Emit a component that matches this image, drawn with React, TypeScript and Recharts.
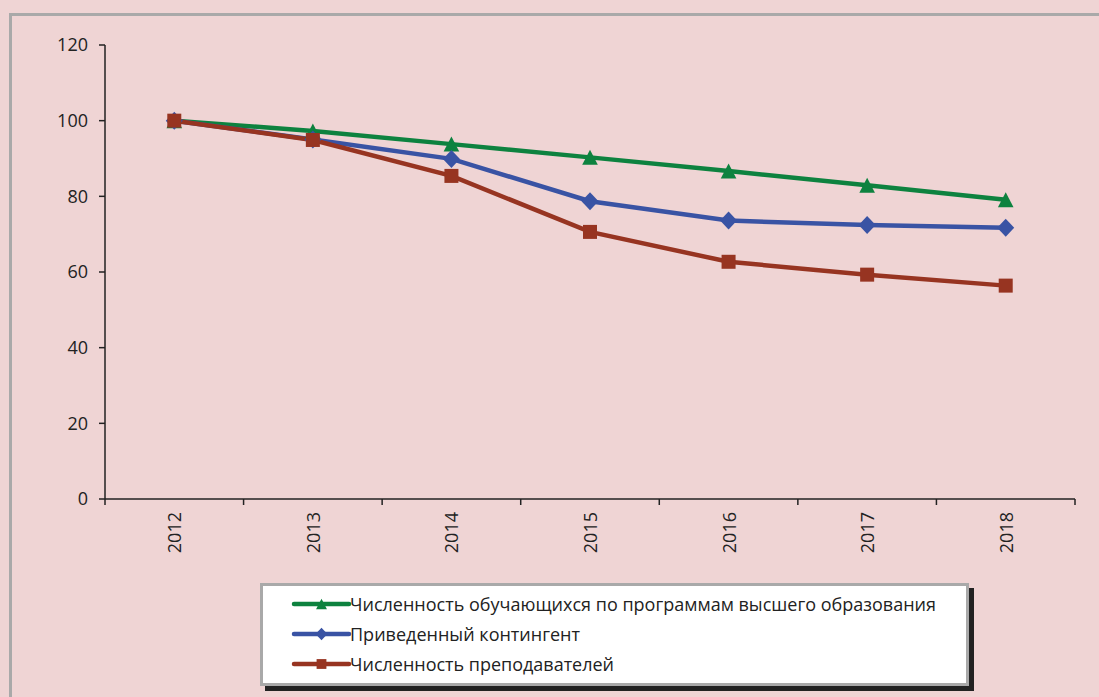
import React from "react";
import { LineChart, Line, XAxis, YAxis } from "recharts";

const years = ["2012", "2013", "2014", "2015", "2016", "2017", "2018"];
const students = [100, 97.3, 93.8, 90.3, 86.7, 82.9, 79.1];
const contingent = [100, 95.0, 89.9, 78.7, 73.6, 72.4, 71.7];
const teachers = [100, 94.9, 85.4, 70.6, 62.7, 59.3, 56.4];
const yTicks = [0, 20, 40, 60, 80, 100, 120];

const seriesNames = [
  "Численность обучающихся по программам высшего образования",
  "Приведенный контингент",
  "Численность преподавателей",
];
const seriesKeys = ["students", "contingent", "teachers"];
const seriesColors = ["#0d823f", "#3953a4", "#973421"];
const seriesShapes = ["triangle", "diamond", "square"];
const legendTextWidths = [586, 230, 264];

const data = years.map((y, i) => ({
  year: y,
  students: students[i],
  contingent: contingent[i],
  teachers: teachers[i],
}));

const FONT = "'Open Sans', 'Noto Sans', sans-serif";
const BG = "#efd4d4";

function Marker({ shape, cx, cy, color, scale = 1 }: any) {
  if (cx == null || cy == null) return null;
  if (shape === "triangle") {
    const w = 7.8 * scale;
    const h = 7.5 * scale;
    return (
      <polygon
        points={`${cx},${cy - h} ${cx + w},${cy + h} ${cx - w},${cy + h}`}
        fill={color}
      />
    );
  }
  if (shape === "diamond") {
    const w = 8.5 * scale;
    const h = 9 * scale;
    return (
      <polygon
        points={`${cx},${cy - h} ${cx + w},${cy} ${cx},${cy + h} ${cx - w},${cy}`}
        fill={color}
      />
    );
  }
  const s = 7 * scale;
  return <rect x={cx - s} y={cy - s} width={2 * s} height={2 * s} fill={color} />;
}

const makeDot = (shape: string, color: string) => (props: any) => (
  <Marker key={`${shape}-${props.index}`} shape={shape} cx={props.cx} cy={props.cy} color={color} />
);

function XTick(props: any) {
  const { x, y, payload, index, visibleTicksCount, width } = props;
  const bw = width / visibleTicksCount;
  const last = index === visibleTicksCount - 1;
  return (
    <g>
      <line x1={x - bw / 2} y1={y} x2={x - bw / 2} y2={y + 6} stroke="#222" strokeWidth={1.5} />
      {last && <line x1={x + bw / 2} y1={y} x2={x + bw / 2} y2={y + 6} stroke="#222" strokeWidth={1.5} />}
      <text
        x={x}
        y={y + 13}
        transform={`rotate(-90 ${x} ${y + 13})`}
        textAnchor="end"
        dominantBaseline="central"
        fontSize={18}
        fontFamily={FONT}
        fill="#222"
      >
        {payload.value}
      </text>
    </g>
  );
}

export default function App() {
  return (
    <div
      style={{
        position: "absolute",
        left: 0,
        top: 0,
        width: 1099,
        height: 697,
        background: BG,
        overflow: "hidden",
      }}
    >
      <div
        style={{
          position: "absolute",
          left: 9,
          top: 13,
          width: 1300,
          height: 900,
          borderLeft: "3px solid #a9a9a9",
          borderTop: "3px solid #a9a9a9",
        }}
      />
      <div style={{ position: "absolute", left: 0, top: 0 }}>
        <LineChart
          width={1099}
          height={697}
          data={data}
          margin={{ top: 45, right: 24, left: 45, bottom: 138 }}
        >
          <YAxis
            domain={[0, 120]}
            ticks={yTicks}
            width={60}
            tickSize={6}
            tickMargin={11}
            axisLine={{ stroke: "#222", strokeWidth: 1.5 }}
            tickLine={{ stroke: "#222", strokeWidth: 1.5 }}
            tick={{ fill: "#222", fontSize: 18, fontFamily: FONT }}
            interval={0}
          />
          <XAxis
            dataKey="year"
            type="category"
            scale="band"
            height={60}
            tickSize={0}
            tickMargin={0}
            tickLine={false}
            axisLine={{ stroke: "#222", strokeWidth: 1.5 }}
            tick={<XTick />}
            interval={0}
          />
          {seriesKeys.map((k, i) => (
            <Line
              key={k}
              type="linear"
              dataKey={k}
              name={seriesNames[i]}
              stroke={seriesColors[i]}
              strokeWidth={4.5}
              dot={makeDot(seriesShapes[i], seriesColors[i])}
              activeDot={false}
              isAnimationActive={false}
            />
          ))}
        </LineChart>
      </div>
      <div
        style={{
          position: "absolute",
          left: 260,
          top: 583,
          width: 709,
          height: 103,
          boxSizing: "border-box",
          background: "#fff",
          border: "3px solid #a9a9a9",
          boxShadow: "5px 5px 0 #222",
        }}
      >
        <svg width={703} height={97} style={{ display: "block" }}>
          {seriesNames.map((name, i) => {
            const cy = 18 + i * 30;
            return (
              <g key={name}>
                <line
                  x1={31}
                  y1={cy}
                  x2={86}
                  y2={cy}
                  stroke={seriesColors[i]}
                  strokeWidth={4.5}
                  strokeLinecap="round"
                />
                <Marker shape={seriesShapes[i]} cx={58.5} cy={cy} color={seriesColors[i]} scale={0.7} />
                <text
                  x={87}
                  y={cy}
                  dominantBaseline="central"
                  fontSize={18}
                  fontFamily={FONT}
                  fill="#222"
                  textLength={legendTextWidths[i]}
                  lengthAdjust="spacingAndGlyphs"
                >
                  {name}
                </text>
              </g>
            );
          })}
        </svg>
      </div>
    </div>
  );
}
